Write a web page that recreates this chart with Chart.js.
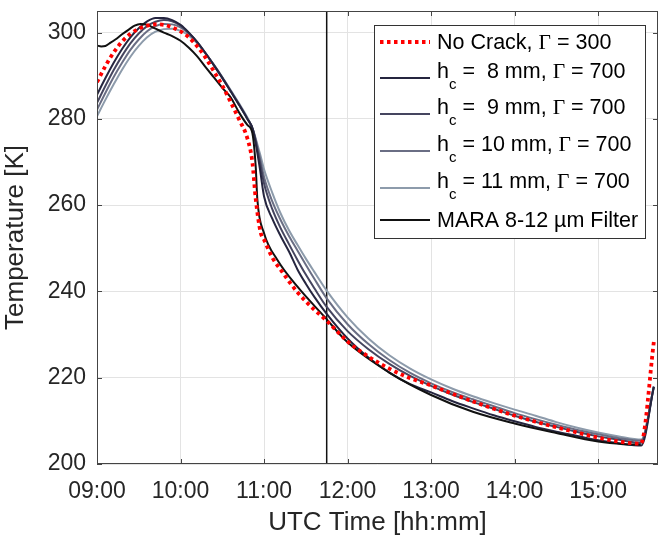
<!DOCTYPE html>
<html><head><meta charset="utf-8">
<script src="https://cdn.jsdelivr.net/npm/chart.js@4/dist/chart.umd.min.js"></script>
<style>html,body{margin:0;padding:0;background:#fff;}canvas{display:block;}</style>
</head><body>
<canvas id="c" width="661" height="538"></canvas>
<script>
// ---- data (time in minutes after midnight UTC, temperature in K) ----
const xTicks = [540, 600, 660, 720, 780, 840, 900];
const yTicks = [200, 220, 240, 260, 280, 300];

const legendLabels = [
  'No Crack, Γ = 300',
  'h_c =  8 mm, Γ = 700',
  'h_c =  9 mm, Γ = 700',
  'h_c = 10 mm, Γ = 700',
  'h_c = 11 mm, Γ = 700',
  'MARA 8-12 µm Filter'
];

const noCrackTime = [540,546,552,558,564,570,576,582,588,594,600,606,612,618,624,630,636,642,648,651.6,654,657.6,660,666,672,678,684,690,696,705,720,735,750,765,780,795,810,825,840,855,870,885,900,915,930.6,940.2];
const noCrackTemp = [288.5,292.2,295.4,297.9,299.7,300.9,301.6,301.9,301.8,301.2,300.3,298.9,296.8,294.2,291.0,287.7,283.9,279.9,275.5,270.0,261.5,253.6,252.0,247.8,245.0,242.3,239.8,237.7,235.8,233.2,228.4,224.9,222.1,219.9,218.2,216.3,214.5,212.8,211.2,209.8,208.5,207.3,206.1,205.2,204.7,228.8];

const simTime = [540,546,552,558,564,570,576,582,588,594,600,606,612,618,624,630,636,642,648,652,657,660,666,672,678,684,690,696,705,720,735,750,765,780,795,810,825,840,855,870,885,900,915,931,940];
const hc8Temp  = [285.6,289.4,293.0,296.2,298.9,301.0,302.6,303.4,303.4,302.9,301.8,300.0,297.8,295.2,292.4,289.5,286.4,283.3,280.0,277.5,268.5,262.0,256.8,252.8,249.2,245.1,241.8,238.8,234.8,229.1,224.7,221.2,218.5,216.6,214.6,212.9,211.3,209.9,208.6,207.5,206.5,205.5,204.8,204.3,217.9];
const hc9Temp  = [283.7,287.6,291.3,294.6,297.5,299.8,301.5,302.5,302.9,302.6,301.6,299.9,297.8,295.2,292.4,289.5,286.4,283.3,280.0,277.5,270.0,265.0,259.0,254.6,250.9,247.3,243.9,240.8,236.4,230.8,226.6,223.2,220.4,218.1,216.1,214.4,212.8,211.2,209.8,208.6,207.4,206.4,205.6,204.9,217.9];
const hc10Temp = [282.1,286.0,289.7,293.0,296.0,298.4,300.3,301.5,302.0,301.9,301.2,299.7,297.7,295.2,292.5,289.6,286.5,283.4,280.1,277.5,271.0,266.5,260.8,256.5,252.8,249.5,246.2,243.0,238.4,232.4,227.8,224.1,221.1,218.7,216.7,215.0,213.4,211.8,210.4,209.1,207.9,206.9,206.0,205.4,217.9];
const hc11Temp = [280.6,284.4,288.0,291.4,294.4,296.9,298.9,300.2,300.8,300.9,300.4,299.3,297.5,295.1,292.5,289.7,286.7,283.6,280.3,277.5,272.0,268.3,262.8,258.0,254.1,250.8,247.6,244.6,240.2,234.0,229.1,225.2,222.1,219.6,217.5,215.7,214.1,212.6,211.2,209.7,208.4,207.3,206.4,205.7,217.9];

const maraTime = [540,543,546,549,553.2,558,562.8,567,571.2,576,582,588,594,600,606,612,618,624,630,636,642,648,651.6,654,655.2,660,669.6,684,703.2,720,750,780,810,840,870,900,918,930.6];
const maraTemp = [297.0,296.8,296.9,297.5,298.4,299.6,300.7,301.6,302.0,301.8,300.9,300.0,299.2,298.1,296.5,294.5,292.0,289.6,287.2,285.0,281.5,278.6,276.7,269.0,261.3,253.5,247.3,241.1,234.2,228.2,221.2,216.0,212.1,209.4,207.2,205.2,204.6,204.5];

const markerTime = [705, 705];
const markerTemp = [200, 305];

// ---- helpers ----
const pts = (xs, ys) => xs.map((x, i) => ({x: x, y: ys[i]}));
const pad2 = n => String(n).padStart(2, '0');
const FONT = '"Liberation Sans", Arial, sans-serif';

const colRed = '#ff0000', col8 = '#25253f', col9 = '#45455f', col10 = '#6a6e84', col11 = '#8d9bab', colMara = '#111111';
const redDash = [3.5, 3.5];

function lineDs(label, data, color, width, dash) {
  return {label, data, borderColor: color, backgroundColor: color, borderWidth: width,
    borderDash: dash || [], pointRadius: 0, pointHoverRadius: 0, fill: false,
    cubicInterpolationMode: 'monotone', borderCapStyle: 'butt'};
}

const datasets = [
  lineDs(legendLabels[0], pts(noCrackTime, noCrackTemp), colRed, 3.8, redDash),
  lineDs(legendLabels[5], pts(maraTime, maraTemp), colMara, 2),
  lineDs(legendLabels[1], pts(simTime, hc8Temp), col8, 2),
  lineDs(legendLabels[2], pts(simTime, hc9Temp), col9, 2),
  lineDs(legendLabels[3], pts(simTime, hc10Temp), col10, 2),
  lineDs(legendLabels[4], pts(simTime, hc11Temp), col11, 2),
  lineDs('marker', pts(markerTime, markerTemp), '#111111', 1.5)
];

const legendStyles = [
  {color: colRed, width: 3.8, dash: redDash},
  {color: col8, width: 2}, {color: col9, width: 2}, {color: col10, width: 2}, {color: col11, width: 2},
  {color: colMara, width: 2}
];

function drawRich(ctx, text, x, y) {
  const hasSub = text.indexOf('_c') >= 0;
  const mainY = hasSub ? y - 6 : y + 1;
  ctx.textBaseline = 'middle'; ctx.textAlign = 'left'; ctx.fillStyle = '#000';
  let cx = x;
  text.split(/(_c|Γ)/).forEach(p => {
    if (!p) return;
    if (p === '_c') {
      ctx.font = '15px ' + FONT; ctx.fillText('c', cx, y + 7); cx += ctx.measureText('c').width;
    } else if (p === 'Γ') {
      ctx.font = '21.5px "Liberation Serif", serif'; ctx.fillText('Γ', cx, mainY); cx += ctx.measureText('Γ').width;
    } else {
      ctx.font = '21.5px ' + FONT; ctx.fillText(p, cx, mainY); cx += ctx.measureText(p).width;
    }
  });
}

const boxPlugin = {
  id: 'matlabBox',
  afterDatasetsDraw(chart) {
    const {ctx, chartArea: a, scales: {x, y}} = chart;
    ctx.save();
    ctx.strokeStyle = '#444444'; ctx.lineWidth = 1; ctx.setLineDash([]);
    ctx.strokeRect(Math.round(a.left) + 0.5, Math.round(a.top) + 0.5, Math.round(a.right - a.left) - 1, Math.round(a.bottom - a.top) - 1);
    ctx.beginPath();
    xTicks.forEach(v => {
      const px = Math.round(x.getPixelForValue(v)) + 0.5;
      ctx.moveTo(px, a.bottom); ctx.lineTo(px, a.bottom - 5);
      ctx.moveTo(px, a.top); ctx.lineTo(px, a.top + 5);
    });
    yTicks.forEach(v => {
      const py = Math.round(y.getPixelForValue(v)) + 0.5;
      ctx.moveTo(a.left, py); ctx.lineTo(a.left + 5, py);
      ctx.moveTo(a.right, py); ctx.lineTo(a.right - 5, py);
    });
    ctx.stroke();
    ctx.restore();
  }
};

const legendPlugin = {
  id: 'boxLegend',
  afterDraw(chart) {
    const ctx = chart.ctx;
    const x0 = 374, y0 = 25, w = 271, h = 213;
    const rowOffsets = [17, 53, 89, 126, 163, 195];
    ctx.save();
    ctx.fillStyle = '#ffffff'; ctx.fillRect(x0, y0, w, h);
    ctx.strokeStyle = '#333333'; ctx.lineWidth = 1; ctx.strokeRect(x0 + 0.5, y0 + 0.5, w, h);
    legendLabels.forEach((lab, i) => {
      const st = legendStyles[i];
      const ly = y0 + rowOffsets[i];
      ctx.beginPath();
      ctx.strokeStyle = st.color; ctx.lineWidth = st.width; ctx.setLineDash(st.dash || []);
      ctx.moveTo(x0 + 6, ly); ctx.lineTo(x0 + 56, ly); ctx.stroke();
      ctx.setLineDash([]);
      drawRich(ctx, lab, x0 + 63, ly);
    });
    ctx.restore();
  }
};

new Chart(document.getElementById('c'), {
  type: 'line',
  data: {datasets},
  plugins: [boxPlugin, legendPlugin],
  options: {
    responsive: false, animation: false, devicePixelRatio: 1,
    layout: {padding: {top: 11, right: 3, left: 0, bottom: 0}},
    plugins: {legend: {display: false}, tooltip: {enabled: false}},
    scales: {
      x: {
        type: 'linear', min: 540, max: 943,
        afterBuildTicks: ax => { ax.ticks = xTicks.map(v => ({value: v})); },
        afterFit: s => { s.height = 74; s.paddingLeft = 0; s.paddingRight = 0; },
        grid: {color: '#e3e3e3', lineWidth: 1, drawTicks: false},
        border: {display: false},
        ticks: {font: {family: FONT, size: 23}, color: '#262626', padding: 14, maxRotation: 0,
          callback: v => pad2(Math.floor(v / 60)) + ':' + pad2(v % 60)},
        title: {display: true, text: 'UTC Time [hh:mm]', font: {family: FONT, size: 26}, color: '#262626', padding: {top: 0, bottom: 0}}
      },
      y: {
        type: 'linear', min: 200, max: 305,
        afterBuildTicks: ax => { ax.ticks = yTicks.map(v => ({value: v})); },
        afterFit: s => { s.width = 97; s.paddingTop = 0; s.paddingBottom = 0; },
        grid: {color: '#e3e3e3', lineWidth: 1, drawTicks: false},
        border: {display: false},
        ticks: {font: {family: FONT, size: 23}, color: '#262626', padding: 11},
        title: {display: true, text: 'Temperature [K]', font: {family: FONT, size: 26}, color: '#262626', padding: {top: 0, bottom: 10}}
      }
    }
  }
});
</script>
</body></html>
